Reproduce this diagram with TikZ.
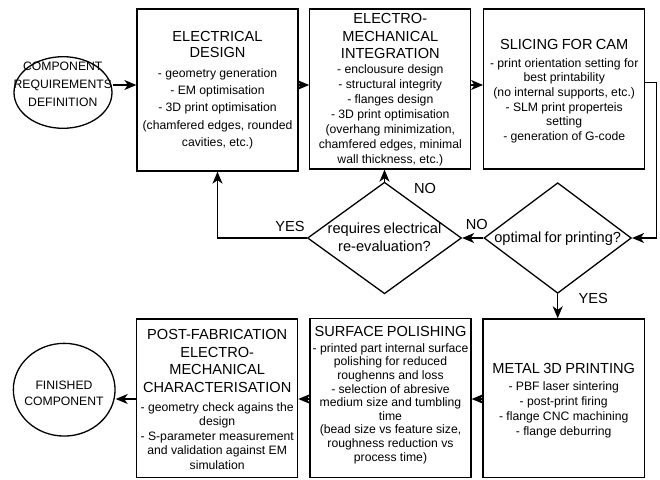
\documentclass[tikz,border=0pt]{standalone}
\usepackage{fontspec}
\setmainfont{Liberation Sans}
\usetikzlibrary{shapes.geometric,arrows.meta}
\setlength{\parindent}{0pt}
\newcommand{\ttlf}[1]{\fontsize{14.6}{#1}\selectfont}
\newcommand{\bdyf}[1]{\fontsize{12.2}{#1}\selectfont}
\begin{document}
\begin{tikzpicture}[x=1pt,y=-1pt,
  lw/.style={line width=1.3pt},
  boxnode/.style={draw, lw, rectangle, inner sep=0pt},
  ell/.style={draw, lw, ellipse, inner sep=0pt},
  dia/.style={draw, lw, diamond, inner sep=0pt},
  txt/.style={align=center, text width=220pt, inner sep=0pt},
  lbl/.style={inner sep=0pt, font=\ttlf{17}},
  arr/.style={lw, -{Stealth[length=12pt,width=10pt,inset=3.5pt]}}]
\useasboundingbox[fill=white] (0,0) rectangle (660,479);

% shapes
\node[ell, minimum width=98pt, minimum height=71.6pt] (e1) at (63,92.5) {};
\node[boxnode, minimum width=161pt, minimum height=162pt] (b1) at (217.5,90) {};
\node[boxnode, minimum width=161pt, minimum height=160pt] (b2) at (390.3,89) {};
\node[boxnode, minimum width=161pt, minimum height=160pt] (b3) at (564.2,89) {};
\node[dia, minimum width=154pt, minimum height=111.6pt] (d1) at (384.5,238) {};
\node[dia, minimum width=147.4pt, minimum height=110.6pt] (d2) at (557.7,238) {};
\node[boxnode, minimum width=161.3pt, minimum height=158.5pt] (b4) at (563.7,398.2) {};
\node[boxnode, minimum width=161pt, minimum height=159pt] (b5) at (390.5,398) {};
\node[boxnode, minimum width=161pt, minimum height=158.5pt] (b6) at (217.2,398.2) {};
\node[ell, minimum width=101.7pt, minimum height=92.7pt] (e2) at (64.2,389.7) {};

% texts
\node[txt] (e1t) at (62.8,84) {\bdyf{17.8}COMPONENT\\REQUIREMENTS\\DEFINITION\par};
\node[txt] (e2t) at (64,393.3) {\bdyf{16.7}FINISHED\\COMPONENT\par};

\node[txt, anchor=north] (b1t) at (217.5,31) {{\ttlf{16}ELECTRICAL\\DESIGN\par}\vspace{3pt}{\bdyf{17.2}- geometry generation\\- EM optimisation\\- 3D print optimisation\\(chamfered edges, rounded\\cavities, etc.)\par}};

\node[txt, anchor=north] (b2t) at (390.3,13.5) {{\ttlf{17.3}ELECTRO-\\MECHANICAL\\INTEGRATION\par}\vspace{0.5pt}{\bdyf{15}- enclousure design\\- structural integrity\\- flanges design\\- 3D print optimisation\\(overhang minimization,\\chamfered edges, minimal\\wall thickness, etc.)\par}};

\node[txt, anchor=north] (b3t) at (564.2,39.5) {{\ttlf{17}SLICING FOR CAM\par}\vspace{2.5pt}{\bdyf{14.7}- print orientation setting for\\best printability\\(no internal supports, etc.)\\- SLM print properteis\\setting\\- generation of G-code\par}};

\node[txt, anchor=north] (b4t) at (563.7,363) {{\ttlf{17}METAL 3D PRINTING\par}\vspace{2.5pt}{\bdyf{15}- PBF laser sintering\\- post-print firing\\- flange CNC machining\\- flange deburring\par}};

\node[txt, anchor=north] (b5t) at (390.5,326.3) {{\ttlf{17}SURFACE POLISHING\par}\vspace{2pt}{\bdyf{13.6}- printed part internal surface\\polishing for reduced\\roughenns and loss\\- selection of abresive\\medium size and tumbling\\time\\(bead size vs feature size,\\roughness reduction vs\\process time)\par}};

\node[txt, anchor=north] (b6t) at (217.2,329.5) {{\ttlf{17.4}POST-FABRICATION\\ELECTRO-\\MECHANICAL\\CHARACTERISATION\par}\vspace{4.3pt}{\bdyf{14.6}- geometry check agains the\\design\\- S-parameter measurement\\and validation against EM\\simulation\par}};

\node[txt] (d1t) at (384.5,237) {\ttlf{17.7}requires electrical\\re-evaluation?\par};
\node[txt] (d2t) at (557.7,238.5) {\ttlf{17.7}optimal for printing?\par};

% helper coordinates
\coordinate (y85) at (0,85);
\coordinate (y83) at (0,82.7);
\coordinate (y399) at (0,399);
\coordinate (xr) at (656.5,0);

% connectors
\draw[arr] (e1.east |- y85) -- (b1.west |- y85);
\draw[arr] (b1.east |- y85) -- (b2.west |- y85);
\draw[arr] (b2.east |- y85) -- (b3.west |- y85);
\draw[arr] (b3.east |- y83) -- (xr |- y83) |- (d2.east);
\draw[arr] (d2.west) -- (d1.east);
\draw[arr] (d1.north) -- (d1.north |- b2.south);
\draw[arr] (d1.west) -| (b1.south);
\draw[arr] (d2.south) -- (d2.south |- b4.north);
\draw[arr] (b4.west |- y399) -- (b5.east |- y399);
\draw[arr] (b5.west |- y399) -- (b6.east |- y399);
\draw[arr] (b6.west |- y399) -- (e2.east |- y399);

% labels
\node[lbl] (l1) at (425,188.3) {NO};
\node[lbl] (l2) at (476.7,224) {NO};
\node[lbl] (l3) at (290,226.7) {YES};
\node[lbl] (l4) at (593.3,298.3) {YES};
\end{tikzpicture}
\end{document}
